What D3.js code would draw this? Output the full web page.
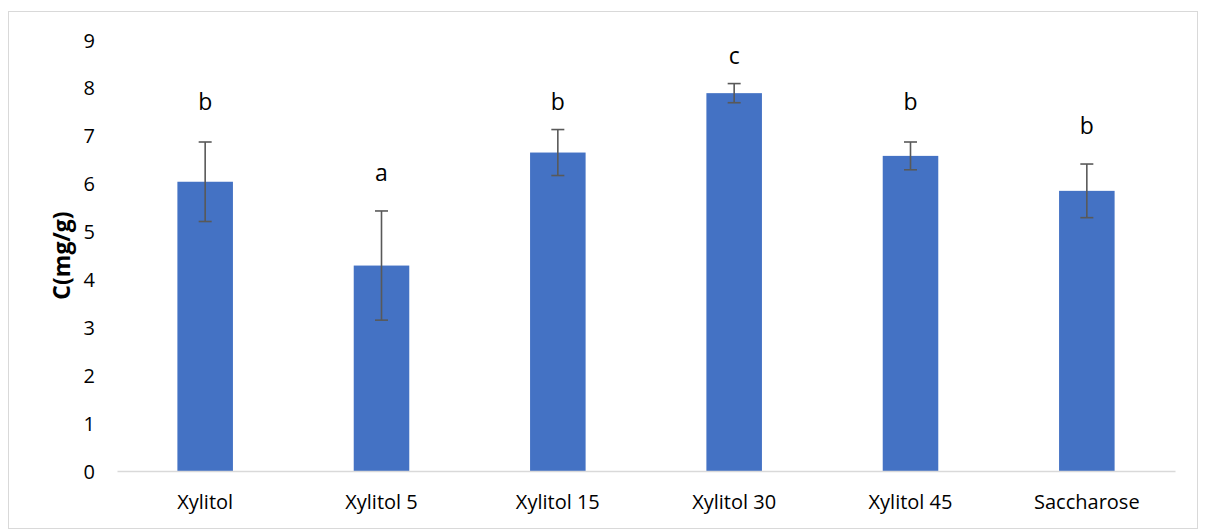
<!DOCTYPE html>
<html>
<head>
<meta charset="utf-8">
<script src="https://cdn.jsdelivr.net/npm/d3@7"></script>
<style>
  html, body { margin: 0; padding: 0; background: #fff; }
  svg { display: block; }
  text { font-family: "Open Sans", "Liberation Sans", sans-serif; fill: #000; }
</style>
</head>
<body>
<svg id="chart" width="1206" height="529"></svg>
<script>
// Sugar treatments and measured concentration (mg/g)
const categories = ["Xylitol", "Xylitol 5", "Xylitol 15", "Xylitol 30", "Xylitol 45", "Saccharose"];
const means      = [6.04, 4.29, 6.65, 7.89, 6.58, 5.85];
const errors     = [0.83, 1.14, 0.48, 0.20, 0.29, 0.56];
// Significance groups and the level (in mg/g) at which each letter sits
const letters    = ["b", "a", "b", "c", "b", "b"];
const letterAt   = [7.54, 6.06, 7.54, 8.50, 7.54, 7.04];
const yTicks     = [0, 1, 2, 3, 4, 5, 6, 7, 8, 9];
const yTitle     = "C(mg/g)";

const svg = d3.select("#chart");

// Chart frame
svg.append("rect")
  .attr("x", 8.5).attr("y", 11.5)
  .attr("width", 1189).attr("height", 517)
  .attr("fill", "#fff").attr("stroke", "#d9d9d9").attr("stroke-width", 1);

const plot = { left: 117, right: 1175, top: 40, bottom: 471 };

const x = d3.scaleBand()
  .domain(categories)
  .range([plot.left, plot.right])
  .paddingInner(0.685)
  .paddingOuter(0.3425);

const y = d3.scaleLinear()
  .domain([0, 9])
  .range([plot.bottom, plot.top]);

// Y axis: labels only
const yAxis = d3.axisLeft(y).tickValues(yTicks).tickSize(0).tickPadding(0).tickFormat(d3.format("d"));
const yg = svg.append("g").attr("transform", `translate(95,0)`).call(yAxis);
yg.select(".domain").remove();
yg.selectAll("text")
  .attr("font-size", 20)
  .attr("font-family", "'Open Sans', sans-serif")
  .attr("fill", "#000")
  .attr("dy", "0.35em");

// Y axis title
svg.append("text")
  .attr("transform", `translate(70,${(plot.top + plot.bottom) / 2}) rotate(-90)`)
  .attr("text-anchor", "middle")
  .attr("font-size", 23)
  .attr("font-weight", "bold")
  .text(yTitle);

// Bars
svg.append("g").selectAll("rect")
  .data(categories)
  .join("rect")
  .attr("x", d => x(d))
  .attr("width", x.bandwidth())
  .attr("y", (d, i) => y(means[i]))
  .attr("height", (d, i) => y(0) - y(means[i]))
  .attr("fill", "#4472C4");

// X axis baseline and category labels
const xAxis = d3.axisBottom(x).tickSize(0).tickPadding(0);
const xg = svg.append("g").attr("transform", `translate(0,${plot.bottom})`).call(xAxis);
xg.select(".domain").attr("stroke", "#d9d9d9").attr("stroke-width", 1.3);
xg.selectAll("text")
  .attr("font-size", 20)
  .attr("font-family", "'Open Sans', sans-serif")
  .attr("fill", "#000")
  .attr("dy", 0)
  .attr("y", 38);

// Error bars
const cap = 6.5;
const eb = svg.append("g").attr("stroke", "#595959").attr("stroke-width", 1.6).attr("fill", "none");
categories.forEach((c, i) => {
  const cx = x(c) + x.bandwidth() / 2;
  const hi = y(means[i] + errors[i]);
  const lo = y(means[i] - errors[i]);
  eb.append("line").attr("x1", cx).attr("x2", cx).attr("y1", hi).attr("y2", lo);
  eb.append("line").attr("x1", cx - cap).attr("x2", cx + cap).attr("y1", hi).attr("y2", hi);
  eb.append("line").attr("x1", cx - cap).attr("x2", cx + cap).attr("y1", lo).attr("y2", lo);
});

// Significance letters
svg.append("g").selectAll("text")
  .data(categories)
  .join("text")
  .attr("x", d => x(d) + x.bandwidth() / 2)
  .attr("y", (d, i) => y(letterAt[i]))
  .attr("text-anchor", "middle")
  .attr("font-size", 23)
  .text((d, i) => letters[i]);
</script>
</body>
</html>
